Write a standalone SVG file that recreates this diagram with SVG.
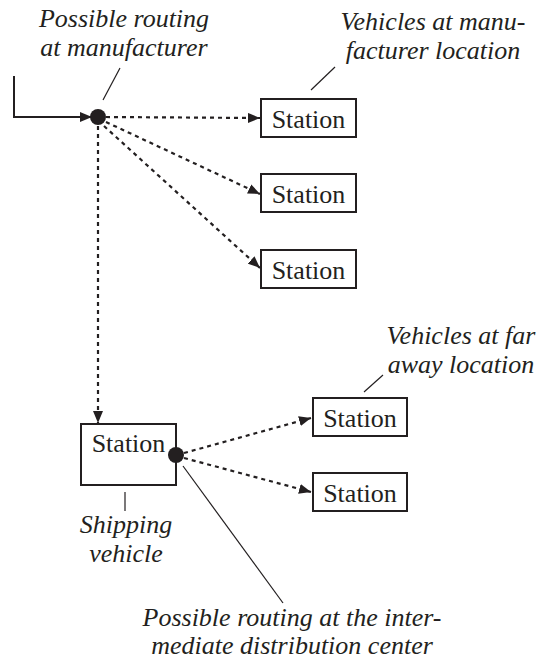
<svg xmlns="http://www.w3.org/2000/svg" width="539" height="660" viewBox="0 0 539 660">
<style>
.box{fill:#fff;stroke:#231f20;stroke-width:2}
.st{font-size:26px;fill:#231f20;text-anchor:middle}
.lb{font-size:26px;font-style:italic;fill:#231f20;text-anchor:middle}
.dot{stroke:#231f20;stroke-width:2.2;stroke-dasharray:4 4;fill:none}
.solid{stroke:#231f20;stroke-width:2;fill:none}
.lead{stroke:#231f20;stroke-width:1.2;fill:none}
.node{fill:#231f20}
</style>
<defs>
<marker id="ah" viewBox="0 0 12 10" refX="12" refY="5" markerWidth="12" markerHeight="10" markerUnits="userSpaceOnUse" orient="auto">
<path d="M0,0 L12,5 L0,10 Z" fill="#231f20"/>
</marker>
</defs>
<g id="connectors">
<path class="solid" d="M14,76 V117 H92" marker-end="url(#ah)"/>
<line class="dot" x1="106" y1="117" x2="260" y2="118" marker-end="url(#ah)"/>
<line class="dot" x1="106" y1="122" x2="260" y2="194" marker-end="url(#ah)"/>
<line class="dot" x1="104" y1="126" x2="260" y2="268" marker-end="url(#ah)"/>
<line class="dot" x1="98" y1="126" x2="98" y2="423" marker-end="url(#ah)"/>
<line class="dot" x1="184" y1="453" x2="311" y2="418" marker-end="url(#ah)"/>
<line class="dot" x1="184" y1="458" x2="311" y2="492" marker-end="url(#ah)"/>
<line class="lead" x1="120" y1="68" x2="103" y2="100"/>
<line class="lead" x1="335" y1="67" x2="311" y2="90"/>
<line class="lead" x1="383" y1="375" x2="364" y2="392"/>
<line class="lead" x1="125" y1="492" x2="125" y2="511"/>
<line class="lead" x1="183" y1="466" x2="283" y2="603"/>
</g>
<g font-family="Liberation Serif, Times New Roman, serif">
<g id="routing-manufacturer">
<circle class="node" cx="98" cy="117" r="8"/>
<text class="lb" x="124" y="27">Possible routing</text>
<text class="lb" x="124" y="56">at manufacturer</text>
</g>
<g id="label-vehicles-manufacturer">
<text class="lb" x="433" y="30">Vehicles at manu-</text>
<text class="lb" x="433" y="59">facturer location</text>
</g>
<g id="station1">
<rect class="box" x="261" y="99" width="95" height="38"/>
<text class="st" x="308.5" y="128">Station</text>
</g>
<g id="station2">
<rect class="box" x="261" y="174" width="95" height="38"/>
<text class="st" x="308.5" y="203">Station</text>
</g>
<g id="station3">
<rect class="box" x="261" y="250" width="95" height="38"/>
<text class="st" x="308.5" y="279">Station</text>
</g>
<g id="shipping-vehicle">
<rect class="box" x="81" y="424" width="95" height="61"/>
<text class="st" x="128.5" y="452">Station</text>
<text class="lb" x="126" y="533">Shipping</text>
<text class="lb" x="126" y="562">vehicle</text>
</g>
<g id="routing-distribution">
<circle class="node" cx="176" cy="455" r="8"/>
<text class="lb" x="292" y="626">Possible routing at the inter-</text>
<text class="lb" x="292" y="654">mediate distribution center</text>
</g>
<g id="label-vehicles-far">
<text class="lb" x="461" y="344">Vehicles at far</text>
<text class="lb" x="461" y="373">away location</text>
</g>
<g id="station4">
<rect class="box" x="313" y="398" width="94" height="38"/>
<text class="st" x="360" y="427">Station</text>
</g>
<g id="station5">
<rect class="box" x="313" y="473" width="94" height="38"/>
<text class="st" x="360" y="502">Station</text>
</g>
</g>
</svg>
